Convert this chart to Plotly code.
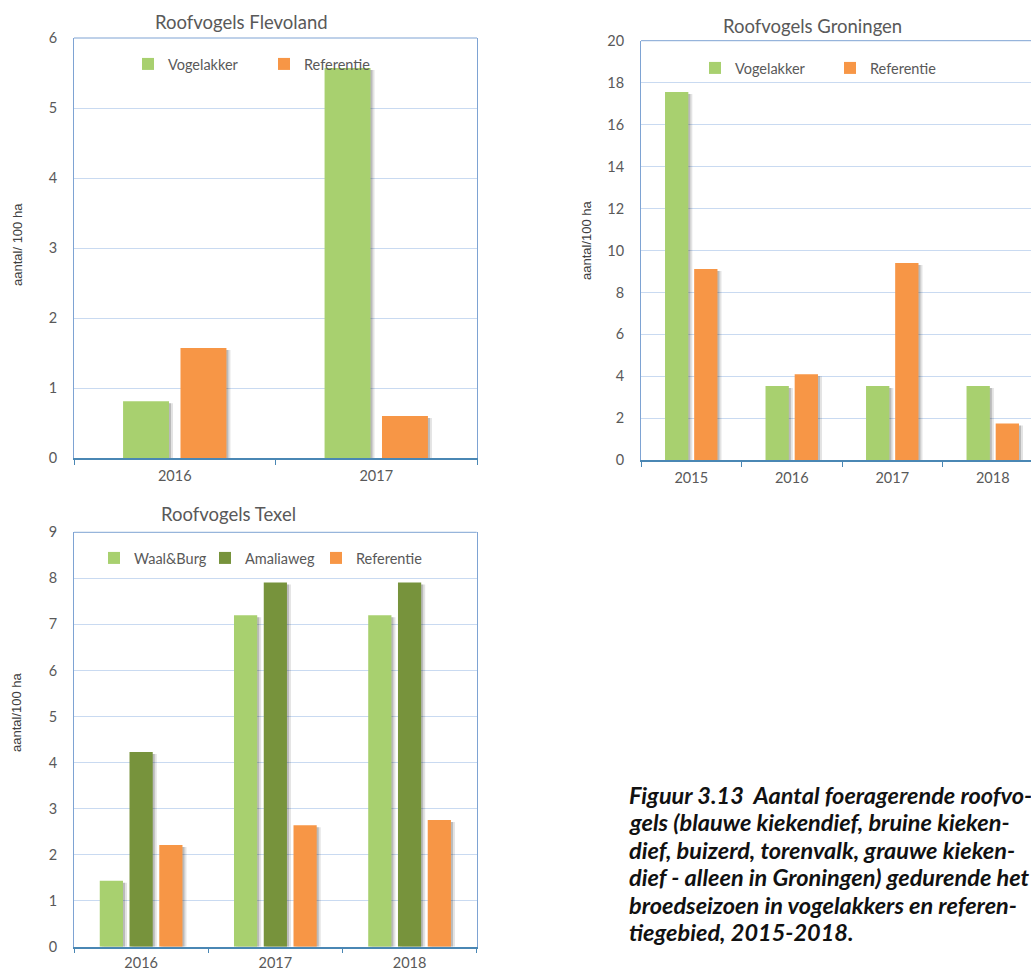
import plotly.graph_objects as go

# ---- data -------------------------------------------------------------
flevo_years = ["2016", "2017"]
flevo_vogelakker = [0.81, 5.57]
flevo_referentie = [1.57, 0.60]

gron_years = ["2015", "2016", "2017", "2018"]
gron_vogelakker = [17.55, 3.54, 3.54, 3.54]
gron_referentie = [9.12, 4.10, 9.41, 1.75]

texel_years = ["2016", "2017", "2018"]
texel_waalburg = [1.43, 7.20, 7.20]
texel_amaliaweg = [4.23, 7.91, 7.91]
texel_referentie = [2.21, 2.64, 2.75]

caption_lines = [
    "Figuur 3.13\u00a0 Aantal foeragerende roofvo-",
    "gels (blauwe kiekendief, bruine kieken-",
    "dief, buizerd, torenvalk, grauwe kieken-",
    "dief - alleen in Groningen) gedurende het",
    "broedseizoen in vogelakkers en referen-",
    "tiegebied, 2015-2018.",
]

# ---- styling ----------------------------------------------------------
W, H = 1031, 970
GREEN = "#a8d06f"
DARK_GREEN = "#77933c"
ORANGE = "#f79646"
GRID = "#c9daf1"
FRAME = "#7ea3d3"
BASE = "#4a87b4"
TICK_FONT = dict(family="Lato, Open Sans, sans-serif", size=14.5, color="#595959")
TITLE_FONT = dict(family="Lato, Open Sans, sans-serif", size=18.5, color="#595959")
YTITLE_FONT = dict(family="Liberation Sans Narrow, Liberation Sans, sans-serif",
                   size=13, color="#404040")


def px_x(p):
    return p / W


def px_y(p):
    return 1 - p / H


fig = go.Figure()


def add_group(xa, ya, cats, series, colors, names, legend, bargap, groupgap,
              cat_px, unit_px):
    """Grouped bars with explicit offsets plus a soft drop shadow."""
    n = len(series)
    slot = (1 - bargap) / n
    width = slot * (1 - groupgap)
    offsets = [-(1 - bargap) / 2 + i * slot + slot * groupgap / 2 for i in range(n)]
    # shadows first so the bars sit on top of them
    for vals, off in zip(series, offsets):
        for shift, alpha in ((2, 0.18), (4, 0.11)):
            fig.add_trace(go.Bar(
                x=cats, y=[v - 2 / unit_px for v in vals],
                offset=off + shift / cat_px, width=width,
                marker=dict(color=f"rgba(0,0,0,{alpha})", line=dict(width=0)),
                xaxis=xa, yaxis=ya, showlegend=False, hoverinfo="skip",
            ))
    for vals, off, col, name in zip(series, offsets, colors, names):
        fig.add_trace(go.Bar(
            x=cats, y=vals, name=name, offset=off, width=width,
            marker=dict(color=col, line=dict(width=0)),
            xaxis=xa, yaxis=ya, legend=legend,
        ))


# Flevoland: plot area 74..477 px, 38..458 px
add_group("x", "y", flevo_years, [flevo_vogelakker, flevo_referentie],
          [GREEN, ORANGE], ["Vogelakker", "Referentie"], "legend",
          0.43, 0.2, (477 - 74) / 2, (458 - 38) / 6)

# Groningen: plot area 641..(1043, cut at page edge), 41..460 px
add_group("x2", "y2", gron_years, [gron_vogelakker, gron_referentie],
          [GREEN, ORANGE], ["Vogelakker", "Referentie"], "legend2",
          0.42, 0.2, 100.4, (460.3 - 40.7) / 20)

# Texel: plot area 74..477 px, 532..947 px
add_group("x3", "y3", texel_years, [texel_waalburg, texel_amaliaweg, texel_referentie],
          [GREEN, DARK_GREEN, ORANGE], ["Waal&Burg", "Amaliaweg", "Referentie"], "legend3",
          0.335, 0.22, (476.7 - 74) / 3, (946.7 - 532.3) / 9)


def xaxis(domain, rng, anchor, standoff=4):
    return dict(domain=domain, range=rng, type="category", showgrid=False,
                showline=True, linecolor=BASE, linewidth=1.5, mirror=False,
                ticks="outside", ticklen=5, tickcolor=BASE, tickson="boundaries",
                tickfont=TICK_FONT, ticklabelstandoff=standoff, anchor=anchor,
                fixedrange=True)


def yaxis(domain, rng, dtick, anchor, mirror=True):
    return dict(domain=domain, range=rng, dtick=dtick, showgrid=True,
                gridcolor=GRID, gridwidth=1, zeroline=False, showline=True,
                linecolor=FRAME, linewidth=1, mirror=mirror, ticks="",
                tickfont=TICK_FONT, ticklabelstandoff=13, anchor=anchor,
                fixedrange=True)


fig.update_layout(
    width=W, height=H,
    margin=dict(l=0, r=0, t=0, b=0, autoexpand=False),
    paper_bgcolor="white", plot_bgcolor="white",
    barmode="overlay",
    showlegend=True,
    xaxis=xaxis([px_x(74), px_x(477)], [-0.5, 1.5], "y"),
    yaxis=yaxis([px_y(458), px_y(38)], [0, 6], 1, "x"),
    xaxis2=xaxis([px_x(641), 1], [-0.5, 3.5 - (1043 - 1031) / 100.4], "y2"),
    yaxis2=yaxis([px_y(460.3), px_y(40.7)], [0, 20], 2, "x2", mirror=False),
    xaxis3=xaxis([px_x(74), px_x(476.7)], [-0.5, 2.5], "y3", standoff=2),
    yaxis3=yaxis([px_y(946.7), px_y(532.3)], [0, 9], 1, "x3"),
)

# top frame lines of the plot areas
for xa, ya in (("x", "y"), ("x2", "y2"), ("x3", "y3")):
    fig.add_shape(type="line", xref=f"{xa} domain", yref=f"{ya} domain",
                  x0=0, x1=1, y0=1, y1=1, line=dict(color=FRAME, width=1))

legend_style = dict(orientation="h", bgcolor="rgba(0,0,0,0)",
                    font=dict(family="Lato, Open Sans, sans-serif", size=14.5, color="#595959"),
                    xanchor="left", yanchor="middle", itemclick=False,
                    itemdoubleclick=False, traceorder="normal")
fig.update_layout(
    legend=dict(x=px_x(128), y=px_y(64), entrywidth=91, **legend_style),
    legend2=dict(x=px_x(695), y=px_y(68), entrywidth=90, **legend_style),
    legend3=dict(x=px_x(94), y=px_y(558), entrywidth=66, **legend_style),
)

# chart titles
for text, cx, cy in (("Roofvogels Flevoland", 241.5, 22),
                     ("Roofvogels Groningen", 812, 26),
                     ("Roofvogels Texel", 228, 514)):
    fig.add_annotation(text=text, x=px_x(cx), y=px_y(cy), xref="paper", yref="paper",
                       xanchor="center", yanchor="middle", showarrow=False, font=TITLE_FONT)

# y-axis titles
for text, cx, cy in (("aantal/ 100 ha", 17, 245),
                     ("aantal/100 ha", 586, 240),
                     ("aantal/100 ha", 16, 712)):
    fig.add_annotation(text=text, x=px_x(cx), y=px_y(cy), xref="paper", yref="paper",
                       xanchor="center", yanchor="middle", textangle=-90,
                       showarrow=False, font=YTITLE_FONT)

# figure caption, one annotation per line for Word-like line spacing
for i, line in enumerate(caption_lines):
    fig.add_annotation(text=f"<b><i>{line}</i></b>", x=px_x(627), y=px_y(795 + i * 27.4),
                       xref="paper", yref="paper", xanchor="left", yanchor="middle",
                       showarrow=False,
                       font=dict(family="Lato, sans-serif", size=23.5, color="#111111"))

fig.write_html("out.html")
